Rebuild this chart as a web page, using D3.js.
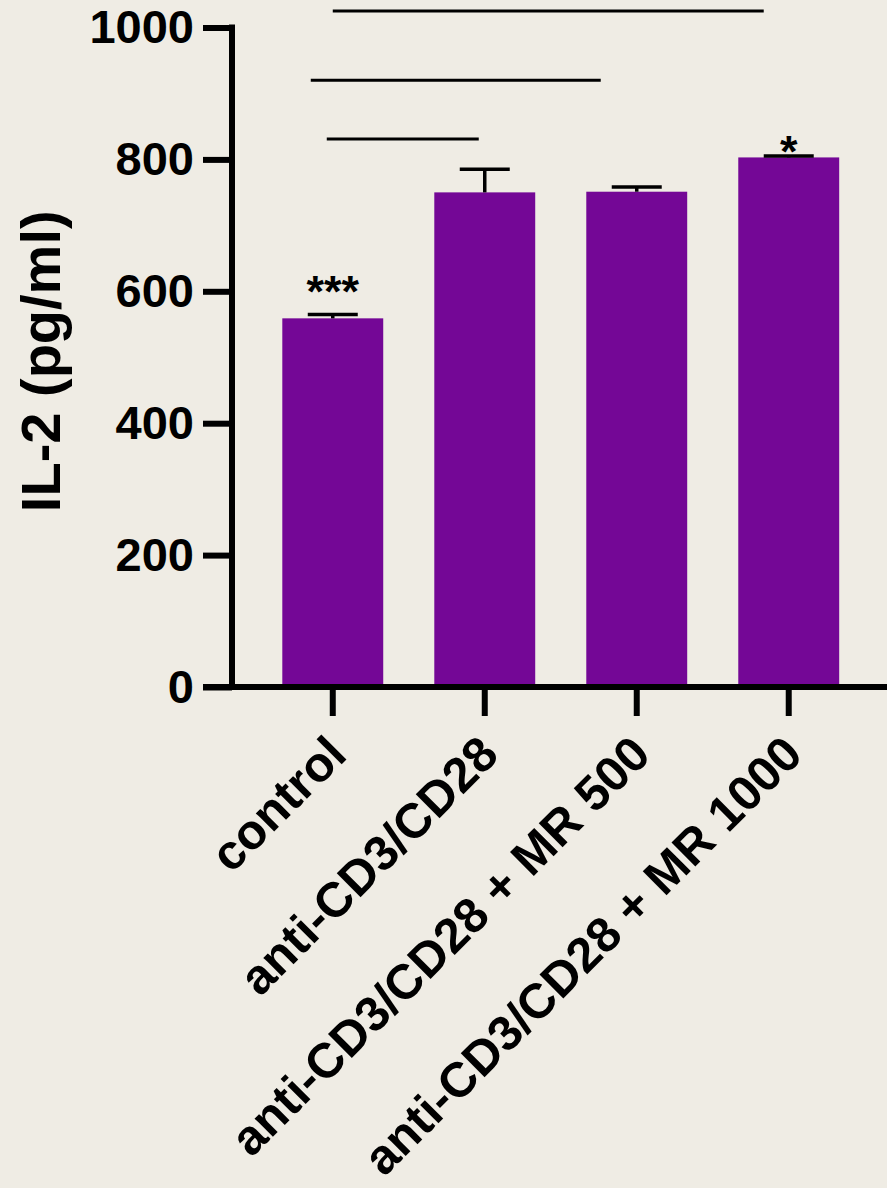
<!DOCTYPE html>
<html>
<head>
<meta charset="utf-8">
<script src="https://cdn.jsdelivr.net/npm/d3@7"></script>
<style>
  html, body { margin: 0; padding: 0; background: #efece4; }
  svg { display: block; }
  text { font-family: "Liberation Sans", Arial, sans-serif; fill: #000; }
  .axis path, .axis line { stroke: #000; stroke-width: 6; }
  .axis text { font-size: 47px; font-weight: bold; font-family: "Liberation Sans", Arial, sans-serif; }
</style>
</head>
<body>
<div id="chart"></div>
<script>
const groups = ["control", "anti-CD3/CD28", "anti-CD3/CD28 + MR 500", "anti-CD3/CD28 + MR 1000"];
const means = [559, 750, 751, 803];
const errors = [6, 35, 7, 2];
const stars = ["***", "", "", "*"];
const starLift = [18, 0, 0, 0];
const yTicks = [0, 200, 400, 600, 800, 1000];

// comparison bars drawn above the columns (y in pg/ml)
const comparisons = [
  { from: "control", to: "anti-CD3/CD28", y: 831 },
  { from: "control", to: "anti-CD3/CD28 + MR 500", y: 920 },
  { from: "control", to: "anti-CD3/CD28 + MR 1000", y: 1025 }
];
const compNudge = [[-6, -6], [-22, -36], [0, -25]];

const width = 887;
const height = 1188;

const svg = d3.select("#chart")
  .append("svg")
  .attr("width", width)
  .attr("height", height);

svg.append("rect")
  .attr("width", width)
  .attr("height", height)
  .attr("fill", "#efece4");

const x = d3.scaleBand()
  .domain(groups)
  .range([232, 889.5])
  .paddingInner(0.336)
  .paddingOuter(0.331);

const y = d3.scaleLinear()
  .domain([0, 1000])
  .range([687, 27.5]);

// bars
svg.selectAll(".bar")
  .data(groups)
  .enter()
  .append("rect")
  .attr("class", "bar")
  .attr("x", d => x(d))
  .attr("width", x.bandwidth())
  .attr("y", (d, i) => y(means[i]))
  .attr("height", (d, i) => y(0) - y(means[i]))
  .attr("fill", "#740796");

// error bars (upper only)
const err = svg.selectAll(".err")
  .data(groups)
  .enter()
  .append("g")
  .attr("class", "err")
  .attr("stroke", "#000")
  .attr("stroke-width", 3.5);

err.append("line")
  .attr("x1", d => x(d) + x.bandwidth() / 2)
  .attr("x2", d => x(d) + x.bandwidth() / 2)
  .attr("y1", (d, i) => y(means[i]))
  .attr("y2", (d, i) => y(means[i] + errors[i]));

err.append("line")
  .attr("x1", d => x(d) + x.bandwidth() / 2 - 25)
  .attr("x2", d => x(d) + x.bandwidth() / 2 + 25)
  .attr("y1", (d, i) => y(means[i] + errors[i]))
  .attr("y2", (d, i) => y(means[i] + errors[i]));

// significance stars
svg.selectAll(".star")
  .data(groups)
  .enter()
  .append("text")
  .attr("class", "star")
  .attr("x", d => x(d) + x.bandwidth() / 2)
  .attr("y", (d, i) => y(means[i] + errors[i]) + 11 - starLift[i])
  .attr("text-anchor", "middle")
  .attr("font-size", 45)
  .attr("font-weight", "bold")
  .text((d, i) => stars[i]);

// comparison lines
svg.selectAll(".comp")
  .data(comparisons)
  .enter()
  .append("line")
  .attr("class", "comp")
  .attr("x1", (d, i) => x(d.from) + x.bandwidth() / 2 + compNudge[i][0])
  .attr("x2", (d, i) => x(d.to) + x.bandwidth() / 2 + compNudge[i][1])
  .attr("y1", d => y(d.y))
  .attr("y2", d => y(d.y))
  .attr("stroke", "#000")
  .attr("stroke-width", 3);

// y axis
const yAxis = d3.axisLeft(y)
  .tickValues(yTicks)
  .tickFormat(d3.format("d"))
  .tickSize(29)
  .tickSizeOuter(0)
  .tickPadding(9);

const gy = svg.append("g")
  .attr("class", "axis")
  .attr("transform", "translate(232,0)")
  .call(yAxis);

gy.select(".domain")
  .attr("d", `M0,${y(0) + 3}V${y(1000) - 3}`);

// x axis
const xAxis = d3.axisBottom(x)
  .tickSize(29)
  .tickSizeOuter(0)
  .tickFormat("");

const gx = svg.append("g")
  .attr("class", "axis")
  .attr("transform", `translate(0,${y(0)})`)
  .call(xAxis);

gx.select(".domain")
  .attr("d", "M203,0H887");

gx.selectAll(".tick line").attr("y1", 3);

// rotated category labels
svg.selectAll(".xlabel")
  .data(groups)
  .enter()
  .append("text")
  .attr("class", "xlabel")
  .attr("transform", d => `translate(${x(d) + x.bandwidth() / 2 + 16},757) rotate(-45)`)
  .attr("text-anchor", "end")
  .attr("font-size", 49)
  .attr("font-weight", "bold")
  .text(d => d);

// y axis title
svg.append("text")
  .attr("transform", `translate(60,${(y(0) + y(1000)) / 2 + 4}) rotate(-90)`)
  .attr("text-anchor", "middle")
  .attr("font-size", 56)
  .attr("font-weight", "bold")
  .text("IL-2 (pg/ml)");
</script>
</body>
</html>
